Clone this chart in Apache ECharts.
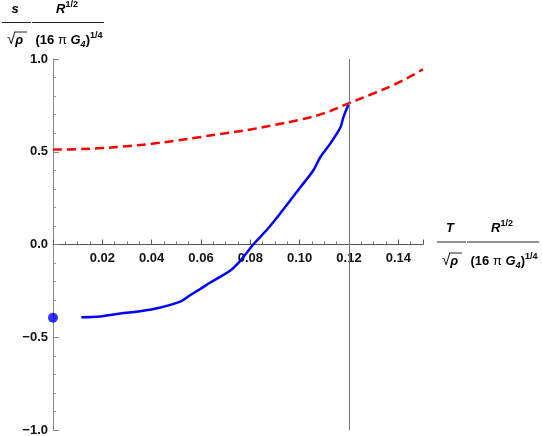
<!DOCTYPE html>
<html>
<head>
<meta charset="utf-8">
<script src="https://cdn.jsdelivr.net/npm/echarts@6/dist/echarts.min.js"></script>
<style>
  html, body { margin: 0; padding: 0; background: #fff; }
  #main { width: 542px; height: 436px; }
</style>
</head>
<body>
<div id="main"></div>
<script>
// 红色虚线 (dashed curve)
var redT = [0, 0.01, 0.02, 0.03, 0.04, 0.05, 0.06, 0.07, 0.08, 0.09, 0.10, 0.11, 0.12, 0.13, 0.14, 0.15];
var redS = [0.512, 0.514, 0.52, 0.53, 0.543, 0.56, 0.58, 0.60, 0.62, 0.645, 0.672, 0.708, 0.762, 0.815, 0.872, 0.945];

// 蓝色实线 (solid curve)
var blueT = [0.0115, 0.0192, 0.0273, 0.0354, 0.0435, 0.0516, 0.0557, 0.0597, 0.0638, 0.0719, 0.0759, 0.0812,
             0.0869, 0.0901, 0.0921, 0.1002, 0.1055, 0.1083, 0.1124, 0.1165, 0.1177, 0.1197];
var blueS = [-0.392, -0.388, -0.372, -0.360, -0.340, -0.308, -0.272, -0.240, -0.205, -0.140, -0.088, 0.000,
             0.082, 0.133, 0.167, 0.307, 0.399, 0.469, 0.544, 0.631, 0.685, 0.752];

// T = 0 点
var dotT = [0];
var dotS = [-0.395];

var xTicks = [0.02, 0.04, 0.06, 0.08, 0.10, 0.12, 0.14];
var markT = 0.12;

var font = 'Liberation Sans, Arial, sans-serif';
var ink = '#111';

// 图表区域
var gTop = 59, gBottom = 6, H = 436;
var zeroOffset = -((H - gBottom) - (gTop + (H - gTop - gBottom) / 2));

var rich = {
    i: { fontFamily: font, fontSize: 13, fontWeight: 'bold', fontStyle: 'italic', color: ink, lineHeight: 18 },
    b: { fontFamily: font, fontSize: 13, fontWeight: 'bold', color: ink, lineHeight: 18 },
    p: { fontFamily: font, fontSize: 13, color: ink, lineHeight: 18 },
    r: { fontFamily: font, fontSize: 15, color: ink, lineHeight: 18 },
    sup: { fontFamily: font, fontSize: 9, fontWeight: 'bold', color: ink, verticalAlign: 'top', lineHeight: 18 },
    sub: { fontFamily: font, fontSize: 9, fontWeight: 'bold', fontStyle: 'italic', color: ink, verticalAlign: 'bottom', lineHeight: 18 }
};

function txt(x, y, s) {
    return {
        type: 'text', x: x, y: y, silent: true,
        style: { text: s, rich: rich, align: 'center', verticalAlign: 'middle' }
    };
}
function bar(x1, x2, y) {
    return {
        type: 'line', silent: true,
        shape: { x1: x1, y1: y, x2: x2, y2: y },
        style: { stroke: '#222', lineWidth: 1 }
    };
}
// 分式标签
function label(x0, yNum, yBar, yDen, numVar) {
    return [
        txt(x0 + 13, yNum, '{i|' + numVar + '}'),
        bar(x0, x0 + 29, yBar),
        txt(x0 + 65, yNum, '{i|R}{sup|1/2}'),
        bar(x0 + 30, x0 + 102, yBar),
        txt(x0 + 13, yDen, '{r|√}{i|ρ}'),
        bar(x0 + 12, x0 + 25, yDen - 8),
        txt(x0 + 67, yDen, '{b|(16 }{p|π}{i| G}{sub|4}{b|)}{sup|1/4}')
    ];
}

var myChart = echarts.init(document.getElementById('main'));
var option = {
    animation: false,
    backgroundColor: '#fff',
    grid: { left: 53, right: 119, top: gTop, bottom: gBottom, outerBoundsMode: 'none', containLabel: false },
    xAxis: {
        type: 'value',
        position: 'bottom',
        offset: zeroOffset,
        min: 0,
        max: 0.15,
        interval: 0.02,
        axisLine: { onZero: false, lineStyle: { color: '#555', width: 1 } },
        axisTick: { inside: true, length: 5, lineStyle: { color: '#555' } },
        minorTick: { show: true, splitNumber: 4, length: 3, lineStyle: { color: '#777' } },
        splitLine: { show: false },
        axisLabel: {
            margin: 7,
            fontFamily: font, fontSize: 13, fontWeight: 'bold', color: ink,
            formatter: function(v) {
                for (var k = 0; k < xTicks.length; k++) {
                    if (Math.abs(v - xTicks[k]) < 1e-6) return xTicks[k].toFixed(2);
                }
                return '';
            }
        }
    },
    yAxis: {
        type: 'value',
        min: -1,
        max: 1,
        interval: 0.5,
        axisLine: { show: true, onZero: false, lineStyle: { color: '#888', width: 1 } },
        axisTick: { show: true, inside: true, length: 6, lineStyle: { color: '#888' } },
        minorTick: { show: true, splitNumber: 5, length: 3, lineStyle: { color: '#999' } },
        splitLine: { show: false },
        axisLabel: {
            margin: 5,
            fontFamily: font, fontSize: 13, fontWeight: 'bold', color: ink,
            formatter: function(v) {
                return v < 0 ? '\u2212' + Math.abs(v).toFixed(1) : v.toFixed(1);
            }
        }
    },
    series: [
        {
            type: 'line',
            data: redT.map(function(t, i) { return [t, redS[i]]; }),
            smooth: true,
            showSymbol: false,
            lineStyle: { color: '#ff0000', width: 2.5, type: [9, 5] },
            z: 3
        },
        {
            type: 'line',
            data: blueT.map(function(t, i) { return [t, blueS[i]]; }),
            smooth: 0.3,
            showSymbol: false,
            lineStyle: { color: '#0000ff', width: 2.5 },
            z: 4,
            markLine: {
                silent: true,
                symbol: 'none',
                label: { show: false },
                lineStyle: { color: '#777', width: 1, type: 'solid' },
                data: [{ xAxis: markT }]
            }
        },
        {
            type: 'scatter',
            data: dotT.map(function(t, i) { return [t, dotS[i]]; }),
            symbolSize: 10,
            clip: false,
            itemStyle: { color: '#0000ff' },
            z: 5
        }
    ],
    graphic: label(2, 9, 22.5, 40, 's').concat(label(437, 228, 242, 261, 'T'))
};
myChart.setOption(option);
</script>
</body>
</html>
